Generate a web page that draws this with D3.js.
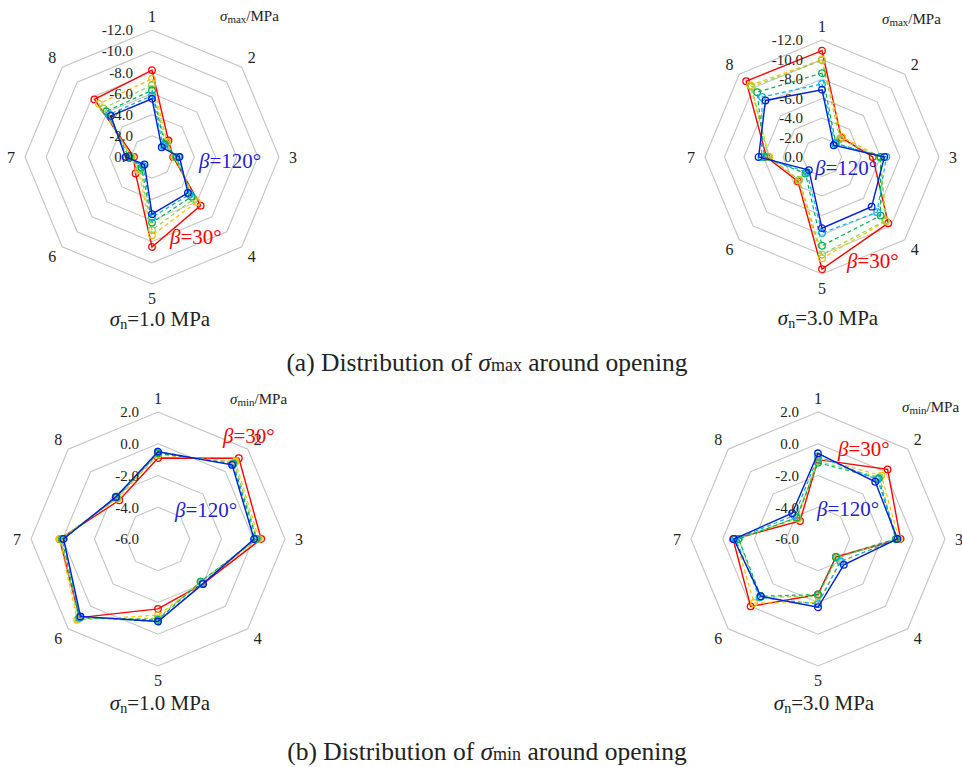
<!DOCTYPE html>
<html>
<head>
<meta charset="utf-8">
<script src="https://cdn.jsdelivr.net/npm/d3@7"></script>
<style>
  html, body { margin: 0; padding: 0; background: #fff; }
</style>
</head>
<body>
<svg id="chart" width="962" height="767" font-family="'Liberation Serif', 'Times New Roman', 'DejaVu Serif', serif"></svg>
<script>
// Eight measuring points around the opening
const points = ["1", "2", "3", "4", "5", "6", "7", "8"];

// Series keys (rock-bridge angle β from 30° to 120°)
const seriesKeys = ["b30", "b2", "b3", "b4", "b5", "b120"];
const seriesColors = ["#ff0000", "#ffc000", "#92d050", "#00b050", "#00b0f0", "#0020d0"];
const seriesDashed = [false, true, true, true, true, false];

// Radial tick labels
const maxTicks = [0, -2, -4, -6, -8, -10, -12];
const minTicks = [-6, -4, -2, 0, 2];

// σmax (MPa), σn = 1.0 MPa, values at points 1..8
const maxSn1 = {
  b30:  [-8.2, -2.2, -2.0, -6.5, -8.5, -2.2, -1.7, -7.7],
  b2:   [-7.4, -2.0, -2.1, -6.0, -7.4, -1.8, -1.9, -7.1],
  b3:   [-6.8, -1.8, -2.2, -5.6, -6.9, -1.6, -2.0, -6.5],
  b4:   [-6.3, -1.7, -2.3, -5.3, -6.2, -1.4, -2.2, -6.1],
  b5:   [-5.8, -1.5, -2.5, -5.0, -5.7, -1.2, -2.4, -5.7],
  b120: [-5.5, -1.3, -2.6, -4.8, -5.4, -1.0, -2.5, -5.5]
};

// σmax (MPa), σn = 3.0 MPa
const maxSn3 = {
  b30:  [-10.9, -2.8, -5.2, -9.6, -11.5, -3.5, -5.7, -11.0],
  b2:   [-10.0, -2.9, -6.0, -9.3, -10.4, -3.4, -5.4, -10.4],
  b3:   [-9.9, -2.6, -5.9, -9.2, -10.0, -3.3, -5.5, -10.2],
  b4:   [-8.6, -2.0, -6.0, -8.5, -9.1, -2.4, -5.9, -9.4],
  b5:   [-7.5, -1.9, -6.6, -8.0, -7.8, -2.2, -6.2, -8.7],
  b120: [-6.9, -1.7, -6.4, -7.2, -7.3, -1.9, -6.5, -8.2]
};

// σmin (MPa), σn = 1.0 MPa
const minSn1 = {
  b30:  [-0.9, 1.2, 0.5, -2.0, -1.6, 1.0, 0.2, -2.55],
  b2:   [-0.7, 0.9, 0.35, -2.1, -1.2, 1.2, 0.2, -2.4],
  b3:   [-0.6, 0.8, 0.25, -2.2, -1.0, 1.1, 0.1, -2.35],
  b4:   [-0.6, 0.7, 0.2, -2.2, -0.9, 1.0, 0.05, -2.3],
  b5:   [-0.5, 0.65, 0.1, -2.05, -0.8, 0.95, -0.05, -2.25],
  b120: [-0.5, 0.6, 0.05, -2.0, -0.8, 0.9, -0.05, -2.25]
};

// σmin (MPa), σn = 3.0 MPa
const minSn3 = {
  b30:  [-1.0, 0.2, -0.8, -4.4, -2.5, 0.0, -0.65, -4.4],
  b2:   [-0.9, -0.35, -0.9, -4.0, -2.0, -0.3, -0.8, -4.2],
  b3:   [-1.1, -0.5, -1.1, -4.3, -2.4, -0.8, -1.0, -4.1],
  b4:   [-1.2, -0.6, -1.1, -4.4, -2.5, -0.9, -1.0, -4.1],
  b5:   [-0.8, -0.7, -1.0, -4.0, -1.9, -0.8, -0.8, -3.9],
  b120: [-0.6, -0.9, -1.0, -3.7, -1.7, -0.9, -0.7, -3.7]
};

const svg = d3.select("#chart");
// plain hyphen-minus for negative tick values
const fmt = v => d3.format(".1f")(v).replace("\u2212", "-");
const TEXT = "#222";

const panels = [
  { data: maxSn1, ticks: maxTicks, cx: 152, cy: 157, R: 127, sub: "max", sn: "1.0",
    unit: [220, 21], b120: [199, 168], b30: [170, 244], snPos: [160, 326] },
  { data: maxSn3, ticks: maxTicks, cx: 822, cy: 157, R: 117, sub: "max", sn: "3.0",
    unit: [882, 24], b120: [815, 175], b30: [847, 268], snPos: [828, 325] },
  { data: minSn1, ticks: minTicks, cx: 158, cy: 539, R: 127, sub: "min", sn: "1.0",
    unit: [230, 404], b30: [223, 443], b120: [175, 517], snPos: [160, 710] },
  { data: minSn3, ticks: minTicks, cx: 818, cy: 539, R: 127, sub: "min", sn: "3.0",
    unit: [902, 412], b30: [838, 456], b120: [817, 516], snPos: [824, 710] }
];

const angle = i => i * Math.PI / 4;   // clockwise from 12 o'clock

panels.forEach(p => {
  const g = svg.append("g").attr("transform", `translate(${p.cx},${p.cy})`);
  const lo = d3.min(p.ticks), hi = d3.max(p.ticks);
  // compressive σmax grows outward from zero; σmin runs from its lowest tick at the centre
  const r = p.ticks === maxTicks
    ? d3.scaleLinear().domain([0, -12]).range([0, p.R])
    : d3.scaleLinear().domain([lo, hi]).range([0, p.R]);

  const ring = d3.lineRadial().angle((d, i) => angle(i)).radius(d => r(d)).curve(d3.curveLinearClosed);

  // grid octagons
  p.ticks.filter(t => r(t) > 0).forEach(t => {
    g.append("path")
      .attr("d", ring(points.map(() => t)))
      .attr("fill", "none")
      .attr("stroke", "#c4c4c4")
      .attr("stroke-width", 1.1);
  });

  // series polygons and markers
  seriesKeys.forEach((k, si) => {
    const vals = p.data[k];
    g.append("path")
      .attr("d", ring(vals))
      .attr("fill", "none")
      .attr("stroke", seriesColors[si])
      .attr("stroke-width", seriesDashed[si] ? 1.2 : 1.4)
      .attr("stroke-dasharray", seriesDashed[si] ? "4,3" : null);
    g.selectAll(null).data(vals).join("circle")
      .attr("cx", (d, i) => r(d) * Math.sin(angle(i)))
      .attr("cy", (d, i) => -r(d) * Math.cos(angle(i)))
      .attr("r", 3.3)
      .attr("fill", "none")
      .attr("stroke", seriesColors[si])
      .attr("stroke-width", 1.3);
  });

  // tick labels along the point-1 direction
  g.selectAll("text.tick").data(p.ticks).join("text")
    .attr("class", "tick")
    .attr("x", -19)
    .attr("y", d => -r(d))
    .attr("dy", "0.35em")
    .attr("text-anchor", "end")
    .attr("font-size", 15)
    .attr("fill", TEXT)
    .text(d => fmt(d));

  // point numbers
  const lr = p.R + 14;
  g.selectAll("text.pt").data(points).join("text")
    .attr("class", "pt")
    .attr("x", (d, i) => lr * Math.sin(angle(i)))
    .attr("y", (d, i) => -lr * Math.cos(angle(i)))
    .attr("dy", "0.35em")
    .attr("text-anchor", "middle")
    .attr("font-size", 16)
    .attr("fill", TEXT)
    .text(d => d);

  // unit label
  const u = svg.append("text").attr("x", p.unit[0]).attr("y", p.unit[1]).attr("font-size", 15).attr("fill", TEXT);
  u.append("tspan").attr("font-style", "italic").text("σ");
  u.append("tspan").attr("font-size", 11).attr("dy", 2).text(p.sub);
  u.append("tspan").attr("dy", -2).text("/MPa");

  // β annotations
  const beta = (pos, color, txt) => {
    const t = svg.append("text").attr("x", pos[0]).attr("y", pos[1]).attr("font-size", 21).attr("fill", color);
    t.append("tspan").attr("font-style", "italic").text("β");
    t.append("tspan").text(txt);
  };
  beta(p.b120, "#1f1fd0", "=120°");
  beta(p.b30, "#ff0000", "=30°");

  // normal stress caption
  const s = svg.append("text").attr("x", p.snPos[0]).attr("y", p.snPos[1])
    .attr("text-anchor", "middle").attr("font-size", 21).attr("fill", TEXT);
  s.append("tspan").attr("font-style", "italic").text("σ");
  s.append("tspan").attr("font-size", 14).attr("dy", 3).text("n");
  s.append("tspan").attr("dy", -3).text(`=${p.sn} MPa`);
});

// figure captions
[["(a) Distribution of ", "max", 371], ["(b) Distribution of ", "min", 760]].forEach(c => {
  const t = svg.append("text").attr("x", 487).attr("y", c[2]).attr("text-anchor", "middle")
    .attr("font-size", 25.5).attr("fill", TEXT);
  t.append("tspan").text(c[0]);
  t.append("tspan").attr("font-style", "italic").text("σ");
  t.append("tspan").attr("font-size", 18).text(c[1]);
  t.append("tspan").text(" around opening");
});
</script>
</body>
</html>
